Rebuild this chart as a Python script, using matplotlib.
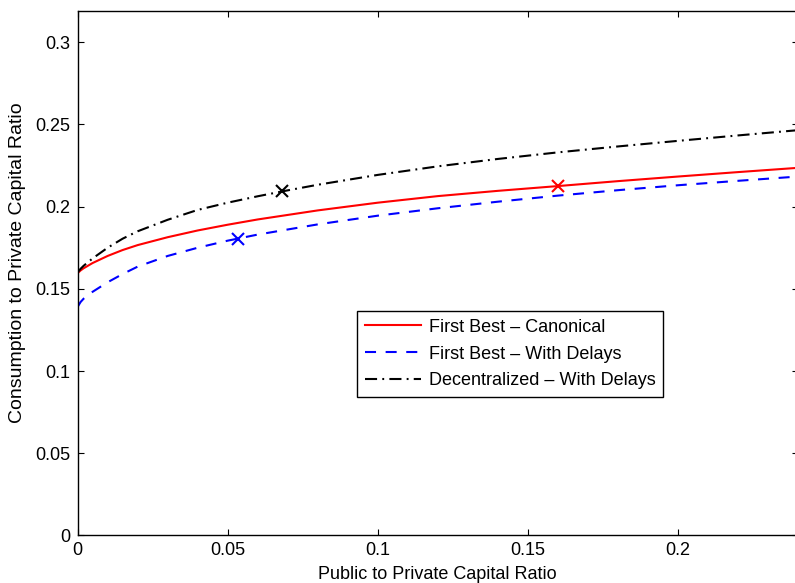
import matplotlib
matplotlib.use("Agg")
import matplotlib.pyplot as plt

plt.rcParams['font.family'] = ['Liberation Sans', 'DejaVu Sans']

# Data
x_red = [0.0, 0.001, 0.002, 0.005, 0.01, 0.015, 0.02, 0.03, 0.04, 0.05, 0.06, 0.08, 0.1, 0.12, 0.14, 0.16, 0.18, 0.2, 0.22, 0.24]
y_red = [0.1595, 0.1612, 0.1625, 0.1657, 0.1700, 0.1736, 0.1766, 0.1814, 0.1855, 0.1890, 0.1922, 0.1977, 0.2024, 0.2064, 0.2096, 0.2125, 0.2155, 0.2183, 0.2210, 0.2236]

x_blue = [0.0, 0.001, 0.002, 0.005, 0.01, 0.015, 0.02, 0.03, 0.04, 0.05, 0.06, 0.08, 0.1, 0.12, 0.14, 0.16, 0.18, 0.2, 0.22, 0.24]
y_blue = [0.1390, 0.1420, 0.1440, 0.1482, 0.1540, 0.1590, 0.1635, 0.1700, 0.1750, 0.1793, 0.1830, 0.1892, 0.1945, 0.1990, 0.2030, 0.2067, 0.2100, 0.2130, 0.2157, 0.2183]

x_black = [0.0, 0.001, 0.002, 0.005, 0.01, 0.015, 0.02, 0.03, 0.04, 0.05, 0.06, 0.07, 0.08, 0.1, 0.12, 0.14, 0.16, 0.18, 0.2, 0.22, 0.24]
y_black = [0.1600, 0.1622, 0.1640, 0.1685, 0.1750, 0.1805, 0.1850, 0.1920, 0.1980, 0.2024, 0.2063, 0.2099, 0.2133, 0.2193, 0.2245, 0.2290, 0.2330, 0.2366, 0.2400, 0.2433, 0.2465]

mark_x = {'red': 0.16, 'blue': 0.0536, 'black': 0.0682}
mark_y = {'red': 0.2125, 'blue': 0.1806, 'black': 0.2094}

labels = ['First Best \u2013 Canonical', 'First Best \u2013 With Delays', 'Decentralized \u2013 With Delays']

xticks = [0, 0.05, 0.1, 0.15, 0.2]
xticklabels = ['0', '0.05', '0.1', '0.15', '0.2']
yticks = [0, 0.05, 0.1, 0.15, 0.2, 0.25, 0.3]
yticklabels = ['0', '0.05', '0.1', '0.15', '0.2', '0.25', '0.3']

fig = plt.figure(figsize=(7.95, 5.83), dpi=100)
ax = fig.add_axes([0.0976, 0.0815, 0.9062, 0.8997])

lw = 1.5
l1, = ax.plot(x_red, y_red, color='#ff0000', lw=lw, label=labels[0])
l2, = ax.plot(x_blue, y_blue, color='#0000ff', lw=lw, dashes=(5.3, 4.6), label=labels[1])
l3, = ax.plot(x_black, y_black, color='black', lw=lw, dashes=(5.8, 2.5, 0.9, 2.5), label=labels[2])

ax.plot([mark_x['red']], [mark_y['red']], marker='x', color='#ff0000', ms=8, mew=1.5, ls='none')
ax.plot([mark_x['blue']], [mark_y['blue']], marker='x', color='#0000ff', ms=8, mew=1.5, ls='none')
ax.plot([mark_x['black']], [mark_y['black']], marker='x', color='black', ms=8, mew=1.5, ls='none')

ax.set_xlim(0, 0.24)
ax.set_ylim(0, 0.319)
ax.set_xticks(xticks)
ax.set_xticklabels(xticklabels)
ax.set_yticks(yticks)
ax.set_yticklabels(yticklabels)
ax.tick_params(direction='in', length=4.5, width=0.8, labelsize=13, top=True, right=True, pad=5)
for s in ax.spines.values():
    s.set_linewidth(1.0)

ax.set_xlabel('Public to Private Capital Ratio', fontsize=13, labelpad=5)
ax.set_ylabel('Consumption to Private Capital Ratio', fontsize=14)
ax.yaxis.set_label_coords(-0.071, 0.52)

leg = ax.legend(handles=[l1, l2, l3], loc='upper left',
                bbox_to_anchor=(357/795, 1 - 311/583), bbox_transform=fig.transFigure,
                fontsize=13, frameon=True, fancybox=False, handlelength=3.1,
                handletextpad=0.45, labelspacing=0.55, borderpad=0.42, borderaxespad=0)
leg.get_frame().set_edgecolor('black')
leg.get_frame().set_linewidth(1.0)
leg.get_frame().set_alpha(1)

fig.savefig('out.png', dpi=100)
